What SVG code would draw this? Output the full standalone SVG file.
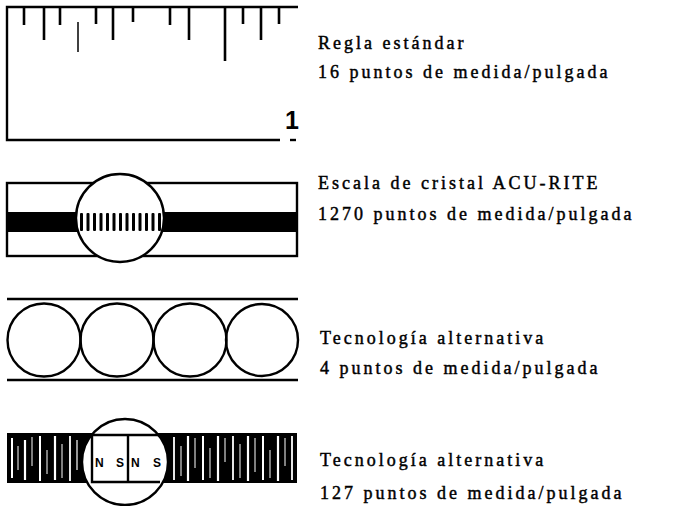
<svg xmlns="http://www.w3.org/2000/svg" width="675" height="506" viewBox="0 0 675 506">
  <style>
    .ln { stroke: #000; stroke-width: 2.4; fill: none; }
    .tick { stroke: #000; stroke-width: 2.6; }
    .thin { stroke: #000; stroke-width: 1.5; }
    .lbl { font-family: "Liberation Serif", "Times New Roman", serif; font-size: 18px; letter-spacing: 3px; fill: #000; stroke: #000; stroke-width: 0.45; }
    .pole { font-family: "Liberation Sans", Arial, sans-serif; font-size: 12px; font-weight: bold; fill: #000; }
    .streak { stroke: #fff; }
  </style>
  <rect width="675" height="506" fill="#fff"/>

  <!-- Standard ruler -->
  <g id="ruler">
    <path class="ln" d="M298 7 H7 V140 H280"/>
    <path class="ln" d="M290 140 H296"/>
    <g class="tick">
      <line x1="24" y1="7" x2="24" y2="25"/>
      <line x1="44" y1="7" x2="44" y2="40"/>
      <line x1="60" y1="7" x2="60" y2="25"/>
      <line x1="96" y1="7" x2="96" y2="24"/>
      <line x1="113" y1="7" x2="113" y2="40"/>
      <line x1="133" y1="7" x2="133" y2="22"/>
      <line x1="170" y1="7" x2="170" y2="25"/>
      <line x1="189" y1="7" x2="189" y2="40"/>
      <line x1="225" y1="7" x2="225" y2="61"/>
      <line x1="243" y1="7" x2="243" y2="24"/>
      <line x1="261" y1="7" x2="261" y2="40"/>
      <line x1="279" y1="7" x2="279" y2="24"/>
    </g>
    <line class="thin" x1="78" y1="22" x2="78" y2="52"/>
    <text x="285" y="129" font-family="Liberation Sans, Arial, sans-serif" font-size="25" font-weight="bold">1</text>
  </g>

  <!-- Glass scale -->
  <g id="glass-scale">
    <rect class="ln" x="7" y="183" width="290" height="73"/>
    <rect x="7" y="212" width="290" height="20" fill="#000"/>
    <circle cx="120" cy="218" r="44" fill="#fff"/>
    <g fill="#000">
      <rect x="80" y="213" width="3" height="18" rx="1"/>
      <rect x="86.5" y="213" width="3" height="18" rx="1"/>
      <rect x="93" y="213" width="3" height="18" rx="1"/>
      <rect x="99.5" y="213" width="3" height="18" rx="1"/>
      <rect x="106" y="213" width="3" height="18" rx="1"/>
      <rect x="112.5" y="213" width="3" height="18" rx="1"/>
      <rect x="119" y="213" width="3" height="18" rx="1"/>
      <rect x="125.5" y="213" width="3" height="18" rx="1"/>
      <rect x="132" y="213" width="3" height="18" rx="1"/>
      <rect x="138.5" y="213" width="3" height="18" rx="1"/>
      <rect x="145" y="213" width="3" height="18" rx="1"/>
      <rect x="151.5" y="213" width="3" height="18" rx="1"/>
      <rect x="158" y="213" width="3" height="18" rx="1"/>
    </g>
    <circle class="ln" cx="120" cy="218" r="44" stroke-width="2.8"/>
  </g>

  <!-- Four-point alternative -->
  <g id="four-point">
    <line class="ln" x1="7" y1="299" x2="298" y2="299"/>
    <line class="ln" x1="7" y1="380" x2="298" y2="380"/>
    <circle class="ln" cx="44" cy="340" r="36.5"/>
    <circle class="ln" cx="117" cy="340" r="36.5"/>
    <circle class="ln" cx="190" cy="340" r="36.5"/>
    <circle class="ln" cx="262" cy="340" r="36"/>
  </g>

  <!-- Magnetic alternative -->
  <g id="magnetic">
    <rect x="7" y="433" width="290" height="50" fill="#000"/>
    <g class="streak">
      <line x1="12" y1="438" x2="12" y2="478" stroke-width="2"/>
      <line x1="18" y1="446" x2="18" y2="470" stroke-width="1"/>
      <line x1="25" y1="440" x2="25" y2="480" stroke-width="2.2"/>
      <line x1="32" y1="437" x2="32" y2="466" stroke-width="1"/>
      <line x1="40" y1="436" x2="40" y2="481" stroke-width="2"/>
      <line x1="47" y1="450" x2="47" y2="474" stroke-width="1"/>
      <line x1="55" y1="436" x2="55" y2="480" stroke-width="2.2"/>
      <line x1="62" y1="444" x2="62" y2="478" stroke-width="1"/>
      <line x1="70" y1="436" x2="70" y2="481" stroke-width="1.8"/>
      <line x1="77" y1="440" x2="77" y2="470" stroke-width="1.2"/>
      <line x1="174" y1="437" x2="174" y2="480" stroke-width="1.8"/>
      <line x1="181" y1="446" x2="181" y2="476" stroke-width="1"/>
      <line x1="188" y1="436" x2="188" y2="481" stroke-width="2.2"/>
      <line x1="195" y1="438" x2="195" y2="468" stroke-width="1"/>
      <line x1="203" y1="436" x2="203" y2="480" stroke-width="2"/>
      <line x1="210" y1="448" x2="210" y2="478" stroke-width="1"/>
      <line x1="218" y1="436" x2="218" y2="481" stroke-width="2.2"/>
      <line x1="225" y1="438" x2="225" y2="462" stroke-width="1"/>
      <line x1="233" y1="436" x2="233" y2="480" stroke-width="1.8"/>
      <line x1="240" y1="444" x2="240" y2="478" stroke-width="1"/>
      <line x1="248" y1="436" x2="248" y2="481" stroke-width="2.2"/>
      <line x1="255" y1="438" x2="255" y2="472" stroke-width="1"/>
      <line x1="263" y1="436" x2="263" y2="480" stroke-width="2"/>
      <line x1="270" y1="450" x2="270" y2="478" stroke-width="1"/>
      <line x1="278" y1="436" x2="278" y2="481" stroke-width="2.2"/>
      <line x1="285" y1="438" x2="285" y2="466" stroke-width="1"/>
      <line x1="292" y1="436" x2="292" y2="480" stroke-width="1.8"/>
    </g>
    <circle cx="125" cy="462" r="43" fill="#fff"/>
    <path class="ln" stroke-width="1.6" d="M92 435 H160 M92 435 V482 H160 M128 435 V482"/>
    <text class="pole" x="95" y="467">N</text>
    <text class="pole" x="116" y="467">S</text>
    <text class="pole" x="131" y="467">N</text>
    <text class="pole" x="153" y="467">S</text>
    <circle class="ln" cx="125" cy="462" r="43" stroke-width="2.6"/>
  </g>

  <!-- Labels -->
  <g id="labels">
    <text class="lbl" x="318" y="49">Regla estándar</text>
    <text class="lbl" x="318" y="78">16 puntos de medida/pulgada</text>
    <text class="lbl" x="318" y="189">Escala de cristal ACU-RITE</text>
    <text class="lbl" x="318" y="220">1270 puntos de medida/pulgada</text>
    <text class="lbl" x="320" y="344">Tecnología alternativa</text>
    <text class="lbl" x="320" y="374">4 puntos de medida/pulgada</text>
    <text class="lbl" x="320" y="466">Tecnología alternativa</text>
    <text class="lbl" x="320" y="499">127 puntos de medida/pulgada</text>
  </g>
</svg>
